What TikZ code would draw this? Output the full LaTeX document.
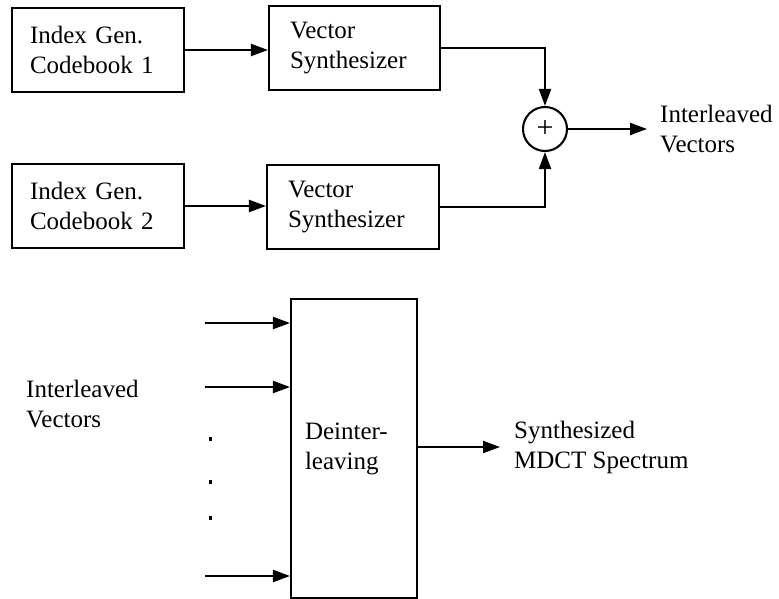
\documentclass[tikz,border=0pt]{standalone}
\usepackage{fontspec}
\setmainfont{Liberation Serif}
\usetikzlibrary{arrows.meta}
\begin{document}
\begin{tikzpicture}[x=1pt,y=-1pt,
  txt/.style={font=\fontsize{25}{30}\selectfont},
  blk/.style={txt, draw, line width=2.1pt, align=left, minimum height=84pt, inner ysep=0pt},
  lbl/.style={txt, align=left, inner sep=0pt, anchor=west},
  arr/.style={line width=2.1pt, -{Triangle[length=17pt,width=12pt]}},
  ln/.style={line width=2.1pt}]
  % page frame
  \fill[white] (0,0) rectangle (779,599);
  \useasboundingbox (0,0) rectangle (779,599);

  % --- synthesis of the two codebook paths ---
  \node[blk, text width=136pt, inner xsep=18pt] (ig1) at (98,50) {Index Gen.\\Codebook 1};
  \node[blk, text width=129pt, inner xsep=21pt] (vs1) at (354.5,48) {Vector\\Synthesizer};
  \node[blk, text width=136pt, inner xsep=18pt] (ig2) at (98,206) {Index Gen.\\Codebook 2};
  \node[blk, text width=130pt, inner xsep=21pt] (vs2) at (353,207) {Vector\\Synthesizer};
  \node[draw, circle, ln, minimum size=44pt, inner sep=0pt,
        font=\fontsize{30}{30}\selectfont] (sum) at (545,129) {+};

  \draw[arr] (ig1.east) -- (ig1.east -| vs1.west);
  \draw[arr] (ig2.east) -- (ig2.east -| vs2.west);
  \draw[arr] (vs1.east) -| (sum.north);
  \draw[arr] (vs2.east) -| (sum.south);

  \coordinate (out1) at (647,129);
  \draw[arr] (sum.east) -- (out1);
  \node[lbl] (lab1) at (660,128.8) {Interleaved\\Vectors};

  % --- deinterleaving stage ---
  \node[blk, minimum height=299pt, text width=98pt, inner xsep=14pt] (deint) at (354,448.5) {Deinter-\\leaving};

  \coordinate (in1) at (205,323);
  \coordinate (in2) at (205,387);
  \coordinate (in3) at (205,576);
  \draw[arr] (in1) -- (in1 -| deint.west);
  \draw[arr] (in2) -- (in2 -| deint.west);
  \draw[arr] (in3) -- (in3 -| deint.west);

  \foreach \yy in {439,482,518} {
    \fill (208.5,\yy-1.75) rectangle ++(3.5,3.5);
  }

  \node[lbl] (lab2) at (26,403.8) {Interleaved\\Vectors};

  \coordinate (out2) at (500,447);
  \draw[arr] (deint.east |- out2) -- (out2);
  \node[lbl] (lab3) at (514,447.4) {Synthesized\\MDCT Spectrum};
\end{tikzpicture}
\end{document}
